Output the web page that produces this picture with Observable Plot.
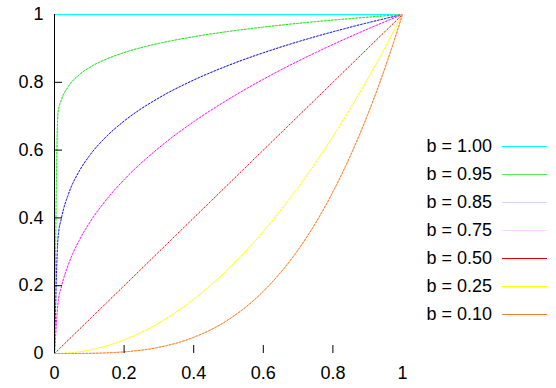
<!DOCTYPE html>
<html>
<head>
<meta charset="utf-8">
<script src="https://cdn.jsdelivr.net/npm/d3@7"></script>
<script src="https://cdn.jsdelivr.net/npm/@observablehq/plot@0.6"></script>
<style>
  html, body { margin: 0; padding: 0; background: #fff; }
  #wrap { position: relative; width: 556px; height: 388px; font-family: "Liberation Sans", Arial, sans-serif; }
  #legend { position: absolute; left: 400px; top: 132px; }
  .row { display: flex; align-items: center; height: 28px; }
  .lab { width: 92px; text-align: right; font-size: 18px; color: #000; white-space: pre; }
  .sw { width: 45px; height: 0; margin-left: 10px; border-top: 1px solid; }
</style>
</head>
<body>
<div id="wrap"><div id="legend"></div></div>
<script>
const labels = ["b = 1.00", "b = 0.95", "b = 0.85", "b = 0.75", "b = 0.50", "b = 0.25", "b = 0.10"];
const xs = [0, 0.0101, 0.0202, 0.0404, 0.0707, 0.1, 0.15, 0.2, 0.3, 0.4, 0.5, 0.6, 0.7, 0.75, 0.8, 0.85, 0.9, 0.95, 1];
const yB100 = [1, 1, 1, 1, 1, 1, 1, 1, 1, 1, 1, 1, 1, 1, 1, 1, 1, 1, 1];
const yB095 = [0, 0.7118, 0.7492, 0.7886, 0.8220, 0.8433, 0.8690, 0.8877, 0.9148, 0.9344, 0.9500, 0.9629, 0.9740, 0.9789, 0.9836, 0.9880, 0.9922, 0.9962, 1];
const yB085 = [0, 0.3405, 0.4006, 0.4712, 0.5373, 0.5828, 0.6410, 0.6857, 0.7541, 0.8067, 0.8500, 0.8871, 0.9198, 0.9348, 0.9490, 0.9626, 0.9756, 0.9880, 1];
const yB075 = [0, 0.1485, 0.1980, 0.2640, 0.3330, 0.3846, 0.4550, 0.5128, 0.6068, 0.6837, 0.7500, 0.8090, 0.8624, 0.8874, 0.9116, 0.9348, 0.9572, 0.9789, 1];
const yB050 = [0, 0.0101, 0.0202, 0.0404, 0.0707, 0.1, 0.15, 0.2, 0.3, 0.4, 0.5, 0.6, 0.7, 0.75, 0.8, 0.85, 0.9, 0.95, 1];
const yB025 = [0, 0.0001, 0.0004, 0.0016, 0.0050, 0.01, 0.0225, 0.04, 0.09, 0.16, 0.25, 0.36, 0.49, 0.5625, 0.64, 0.7225, 0.81, 0.9025, 1];
const yB010 = [0, 0, 0, 0, 0.0002, 0.0005, 0.0018, 0.0048, 0.0183, 0.0477, 0.1, 0.1833, 0.3058, 0.3845, 0.4766, 0.5828, 0.7046, 0.8433, 1];
const seriesY = [yB100, yB095, yB085, yB075, yB050, yB025, yB010];
const strongColors = ["#00ffff", "#22dd22", "#1010ff", "#ff10ff", "#ee1010", "#ffff00", "#ff7a20"];
const paleColors = ["#00ffff", "#a0ffa0", "#c8c8ff", "#ffc8ff", "#ffc4c4", "#ffff90", "#ffc8a0"];
const legendColors = ["#00ffff", "#55ee55", "#d4d4ff", "#ffd4ff", "#e00000", "#ffff00", "#ee8030"];
const xTickMarks = [0.2, 0.4, 0.6, 0.8];
const yTickMarks = [0.2, 0.4, 0.6, 0.8];
const xTickLabels = [0, 0.2, 0.4, 0.6, 0.8, 1];
const yTickLabels = [0, 0.2, 0.4, 0.6, 0.8, 1];

const seriesData = seriesY.map(ys => xs.map((x, j) => ({x, y: ys[j]})));

const lineMarks = seriesData.flatMap((d, i) => [
  Plot.line(d, {x: "x", y: "y", stroke: paleColors[i], strokeWidth: 1, curve: "monotone-x"}),
  Plot.line(d, {x: "x", y: "y", stroke: strongColors[i], strokeWidth: 1, curve: "monotone-x",
    strokeDasharray: i === 0 ? null : (i === 4 ? "1,2.6" : "1.5,2")})
]);

const chart = Plot.plot({
  width: 556,
  height: 388,
  marginLeft: 54,
  marginRight: 154,
  marginTop: 14,
  marginBottom: 35,
  x: {domain: [0, 1], label: null},
  y: {domain: [0, 1], label: null},
  style: {fontFamily: "'Liberation Sans', Arial, sans-serif", fontSize: "18px", color: "#000", background: "#fff"},
  marks: [
    ...lineMarks,
    Plot.ruleX([0], {y1: 0, y2: 1, stroke: "#000"}),
    Plot.axisX(xTickMarks, {anchor: "bottom", tickSize: 8, dy: -8, fill: "none", label: null}),
    Plot.axisY(yTickMarks, {anchor: "left", tickSize: 8, dx: 8, fill: "none", label: null}),
    Plot.axisX(xTickLabels, {anchor: "bottom", tickSize: 0, tickPadding: 13, tickFormat: d => String(d), fontSize: 18, label: null}),
    Plot.axisY(yTickLabels, {anchor: "left", tickSize: 0, tickPadding: 11, tickFormat: d => String(d), fontSize: 18, label: null})
  ]
});
const wrap = document.getElementById("wrap");
wrap.insertBefore(chart, wrap.firstChild);

const legend = document.getElementById("legend");
labels.forEach((t, i) => {
  const row = document.createElement("div");
  row.className = "row";
  const lab = document.createElement("span");
  lab.className = "lab";
  lab.textContent = t;
  const sw = document.createElement("div");
  sw.className = "sw";
  sw.style.borderTopColor = legendColors[i];
  row.appendChild(lab);
  row.appendChild(sw);
  legend.appendChild(row);
});
</script>
</body>
</html>
